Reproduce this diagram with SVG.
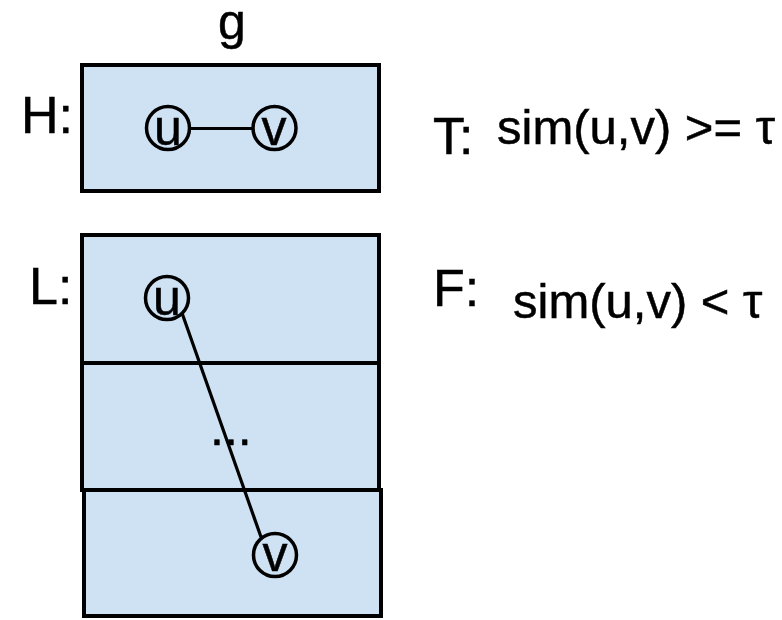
<svg xmlns="http://www.w3.org/2000/svg" width="782" height="620" viewBox="0 0 782 620">
<style>
text{font-family:"Liberation Sans",Arial,sans-serif;fill:#000;stroke:#000;stroke-width:0.5}
.lbl{font-size:52px}
.expr{font-size:49px}
.box{fill:#cfe2f3;stroke:#000;stroke-width:4}
.node circle{fill:none;stroke:#000;stroke-width:3.5}
.node text{font-size:50px;text-anchor:middle}
.edge{stroke:#000;stroke-width:3.2;fill:none}
</style>
<rect width="782" height="620" fill="#fff"/>
<g id="labels">
<text class="lbl" x="232" y="39" text-anchor="middle" style="font-size:50px">g</text>
<text class="lbl" x="21" y="133">H:</text>
<text class="lbl" x="29" y="304">L:</text>
<text class="lbl" x="433" y="154">T:</text>
<text class="lbl" x="433" y="306">F:</text>
<text class="expr" x="497" y="144">sim(u,v) &gt;= τ</text>
<text class="expr" x="513" y="318">sim(u,v) &lt; τ</text>
</g>
<g id="H">
<rect class="box" x="82" y="65" width="297" height="126"/>
</g>
<g id="L">
<rect class="box" x="82" y="235" width="297" height="128"/>
<rect class="box" x="82" y="363" width="297" height="127"/>
<rect class="box" x="84" y="490" width="297" height="126"/>
<text x="210" y="445" style="font-size:50px">...</text>
</g>
<g id="connectors">
<line class="edge" x1="190" y1="128.5" x2="252" y2="128.5"/>
<line class="edge" x1="182" y1="313" x2="261" y2="537"/>
</g>
<g id="H-u" class="node"><circle cx="168" cy="128" r="21.5"/><text x="168" y="145">u</text></g>
<g id="H-v" class="node"><circle cx="274.5" cy="128" r="21.5"/><text x="274" y="145">v</text></g>
<g id="L-u" class="node"><circle cx="167" cy="298" r="21.5"/><text x="167" y="315">u</text></g>
<g id="L-v" class="node"><circle cx="275" cy="555" r="21.5"/><text x="275" y="571">v</text></g>
</svg>
